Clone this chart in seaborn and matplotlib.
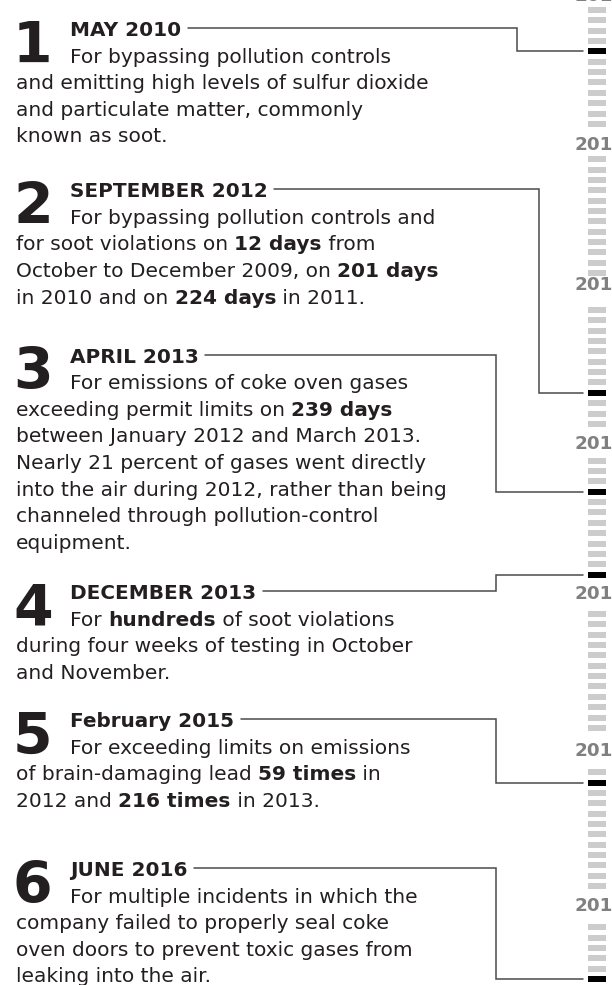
import matplotlib
matplotlib.use("Agg")
import matplotlib.pyplot as plt
import seaborn as sns
import pandas as pd
from matplotlib.path import Path

# ---------------- data ----------------
years = [2010, 2011, 2012, 2013, 2014, 2015, 2016]
month_numbers = list(range(1, 13))

event_numbers = ["1", "2", "3", "4", "5", "6"]
event_headings = ["MAY 2010", "SEPTEMBER 2012", "APRIL 2013",
                  "DECEMBER 2013", "February 2015", "JUNE 2016"]
event_years = [2010, 2012, 2013, 2013, 2015, 2016]
event_months = [5, 9, 4, 12, 2, 6]
event_texts = [
    ["For bypassing pollution controls",
     "and emitting high levels of sulfur dioxide",
     "and particulate matter, commonly",
     "known as soot."],
    ["For bypassing pollution controls and",
     "for soot violations on **12 days** from",
     "October to December 2009, on **201 days**",
     "in 2010 and on **224 days** in 2011."],
    ["For emissions of coke oven gases",
     "exceeding permit limits on **239 days**",
     "between January 2012 and March 2013.",
     "Nearly 21 percent of gases went directly",
     "into the air during 2012, rather than being",
     "channeled through pollution-control",
     "equipment."],
    ["For **hundreds** of soot violations",
     "during four weeks of testing in October",
     "and November."],
    ["For exceeding limits on emissions",
     "of brain-damaging lead **59 times** in",
     "2012 and **216 times** in 2013."],
    ["For multiple incidents in which the",
     "company failed to properly seal coke",
     "oven doors to prevent toxic gases from",
     "leaking into the air."],
]

# ---------------- layout ----------------
W, H = 612, 985
year_start_px = [10, 159.3, 310, 460.7, 614, 772.3, 927.3]   # pixel row of each January tick
year_label_px = [-4, 144.5, 284.7, 443.7, 594, 751, 906]     # pixel row of each year label
TICK_STEP = 10.35
TICK_XC = 597
YEAR_LABEL_X = 600
heading_baselines = [36, 197.3, 362.7, 599, 727, 876]
connector_x = [516.7, 539.3, 495.7, 495.7, 495.7, 495.7]
LINE_H = 26.6
TEXT_X = 16
INDENT_X = 70.5
BODY_FAMILY = ["DejaVu Sans"]
BODY_TARGET = 427.0      # pixel width of "into the air during 2012, rather than being"
HEAD_TARGET = 196.0      # pixel width of "SEPTEMBER 2012"

def month_y(year, month):
    return year_start_px[years.index(year)] + (month - 1) * TICK_STEP

sns.set_theme(style="white")
plt.rcParams["font.family"] = BODY_FAMILY

fig = plt.figure(figsize=(W / 100, H / 100), dpi=100)
ax = fig.add_axes([0, 0, 1, 1])
ax.set_xlim(0, W)
ax.set_ylim(H, 0)
ax.axis("off")

# month ticks
rows = []
events = set(zip(event_years, event_months))
for yr in years:
    for m in month_numbers:
        rows.append({"x": TICK_XC, "y": month_y(yr, m),
                     "kind": "event" if (yr, m) in events else "month"})
ticks = pd.DataFrame(rows)
rect = Path([(-9.3, -3.0), (9.3, -3.0), (9.3, 3.0), (-9.3, 3.0), (-9.3, -3.0)],
            [Path.MOVETO, Path.LINETO, Path.LINETO, Path.LINETO, Path.CLOSEPOLY])
msize = 18.6 * 72 / 100
sns.scatterplot(data=ticks, x="x", y="y", hue="kind",
                palette={"month": "#cccccc", "event": "#000000"},
                marker=rect, s=msize ** 2, linewidth=0, legend=False, ax=ax)
ax.set_xlim(0, W)
ax.set_ylim(H, 0)

fig.canvas.draw()
renderer = fig.canvas.get_renderer()

def fit_size(text, weight, target, base=12.0):
    t = ax.text(0, 0, text, fontsize=base, fontweight=weight)
    w = t.get_window_extent(renderer).width
    t.remove()
    return base * target / w

BODY_FS = fit_size("into the air during 2012, rather than being", "normal", BODY_TARGET)
HEAD_FS = fit_size("SEPTEMBER 2012", "bold", HEAD_TARGET)
TXT_COL = "#231f20"
LINE_COL = "#4a4a4a"

# year labels
for yr, yl in zip(years, year_label_px):
    ax.text(YEAR_LABEL_X, yl, str(yr), ha="center", va="center", fontsize=13.2,
            fontweight="bold", color="#808080")

def draw_line(x, y, line):
    parts = line.split("**")
    for i, p in enumerate(parts):
        if not p:
            continue
        t = ax.text(x, y, p, ha="left", va="baseline", fontsize=BODY_FS,
                    fontweight="bold" if i % 2 else "normal", color=TXT_COL)
        bb = t.get_window_extent(renderer)
        x += bb.width

for i in range(len(event_numbers)):
    hb = heading_baselines[i]
    ax.text(TEXT_X - 3, hb + LINE_H, event_numbers[i], ha="left", va="baseline",
            fontsize=41, fontweight="bold", color="#231f20")
    ht = ax.text(INDENT_X, hb, event_headings[i], ha="left", va="baseline",
                 fontsize=HEAD_FS, fontweight="bold", color=TXT_COL)
    hx1 = ht.get_window_extent(renderer).x1
    for j, line in enumerate(event_texts[i]):
        draw_line(INDENT_X if j == 0 else TEXT_X, hb + LINE_H * (j + 1), line)
    ty = month_y(event_years[i], event_months[i])
    hy = hb - 8
    cx = connector_x[i]
    ax.plot([hx1 + 6, cx, cx, 583], [hy, hy, ty, ty], color=LINE_COL, lw=1.1,
            solid_joinstyle="miter")

fig.savefig("out.png", dpi=100)
